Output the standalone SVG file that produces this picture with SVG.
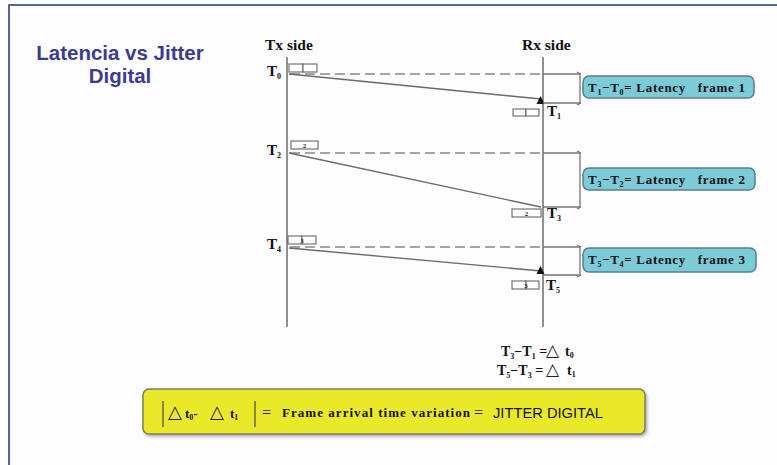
<svg xmlns="http://www.w3.org/2000/svg" width="777" height="465" viewBox="0 0 777 465">
<defs>
<style>
.ser{font-family:"Liberation Serif","Times New Roman",serif;font-weight:bold;fill:#111;}
.lbl{font-size:15px;}
.sub{font-size:8px;}
.cal{font-size:13px;letter-spacing:0.7px;}
.axis{stroke:#7a7272;stroke-width:1.6;fill:none;}
.sig{stroke:#6e6868;stroke-width:1.4;fill:none;}
.dash{stroke:#8a8585;stroke-width:1.6;stroke-dasharray:10 5;fill:none;}
.brk{stroke:#7a7272;stroke-width:1.3;fill:none;}
.frm{fill:#fff;stroke:#6e6464;stroke-width:1.1;}
.callout{fill:#7ccbd8;stroke:#587f88;stroke-width:1.5;}
.fnum{font-family:"Liberation Serif",serif;font-size:7px;font-weight:bold;fill:#222;}
.tri{font-family:"DejaVu Sans",sans-serif;fill:#222;}
</style>
<filter id="sh" x="-5%" y="-20%" width="110%" height="150%">
<feDropShadow dx="1.5" dy="2" stdDeviation="1.5" flood-color="#777" flood-opacity="0.6"/>
</filter>
</defs>
<rect x="0" y="0" width="777" height="465" fill="#ffffff"/>
<rect x="9" y="5" width="800" height="500" fill="#fdfdff" stroke="#55649e" stroke-width="2"/>

<g id="title">
<text x="120" y="60" text-anchor="middle" font-family="Liberation Sans,Arial,sans-serif" font-weight="bold" font-size="20.5" fill="#3c3c8e">Latencia vs Jitter</text>
<text x="120" y="83" text-anchor="middle" font-family="Liberation Sans,Arial,sans-serif" font-weight="bold" font-size="20.5" fill="#3c3c8e">Digital</text>
</g>

<g id="tx-side">
<text class="ser" x="265" y="50" font-size="15.5">Tx side</text>
<line class="axis" x1="287" y1="57" x2="287" y2="327"/>
</g>
<g id="rx-side">
<text class="ser" x="522" y="50" font-size="15.5">Rx side</text>
<line class="axis" x1="543" y1="57" x2="543" y2="327"/>
</g>

<g id="connectors">
<line class="dash" x1="290" y1="74" x2="543" y2="74"/>
<line class="dash" x1="290" y1="153" x2="543" y2="153"/>
<line class="dash" x1="290" y1="247" x2="543" y2="247"/>
<line class="sig" x1="289" y1="74" x2="541" y2="99"/>
<line class="sig" x1="289" y1="153" x2="541" y2="207"/>
<line class="sig" x1="289" y1="248" x2="541" y2="271"/>
<polygon points="540.5,96 536.5,104 544.5,104" fill="#111"/>
<polygon points="540.5,266 536.5,274 544.5,274" fill="#111"/>
<path class="brk" d="M543,74 H580 V103 H543"/>
<path class="brk" d="M543,153 H580 V207 H543"/>
<path class="brk" d="M543,247 H580 V275 H543"/>
<path class="brk" d="M577,72 L581,74 M577,105 L581,103 M577,151 L581,153 M577,209 L581,207 M577,245 L581,247 M577,277 L581,275"/>
</g>

<g id="frame1">
<text class="ser lbl" x="267" y="76">T<tspan class="sub" dy="3">0</tspan></text>
<rect class="frm" x="289" y="64" width="14" height="8"/>
<rect class="frm" x="303" y="64" width="14" height="8"/>
<rect class="frm" x="513" y="109" width="13" height="7"/>
<rect class="frm" x="526" y="109" width="13" height="7"/>
<text class="ser lbl" x="547" y="116">T<tspan class="sub" dy="3">1</tspan></text>
<rect class="callout" x="583" y="76" width="171" height="22" rx="6"/>
<text class="ser cal" x="588" y="92">T<tspan class="sub" dy="3">1</tspan><tspan dy="-3">−T</tspan><tspan class="sub" dy="3">0</tspan><tspan dy="-3">= Latency &#160;&#160;frame 1</tspan></text>
</g>

<g id="frame2">
<text class="ser lbl" x="267" y="155">T<tspan class="sub" dy="3">2</tspan></text>
<rect class="frm" x="291" y="141" width="27" height="8"/>
<text class="fnum" x="304.5" y="148" text-anchor="middle">2</text>
<rect class="frm" x="512" y="209" width="29" height="8"/>
<text class="fnum" x="526.5" y="216" text-anchor="middle">2</text>
<text class="ser lbl" x="547" y="218">T<tspan class="sub" dy="3">3</tspan></text>
<rect class="callout" x="583" y="168" width="172" height="22" rx="6"/>
<text class="ser cal" x="588" y="184">T<tspan class="sub" dy="3">3</tspan><tspan dy="-3">−T</tspan><tspan class="sub" dy="3">2</tspan><tspan dy="-3">= Latency &#160;&#160;frame 2</tspan></text>
</g>

<g id="frame3">
<text class="ser lbl" x="267" y="249">T<tspan class="sub" dy="3">4</tspan></text>
<rect class="frm" x="288" y="236" width="14" height="8"/>
<rect class="frm" x="302" y="236" width="14" height="8"/>
<text class="fnum" x="302" y="243" text-anchor="middle">3</text>
<rect class="frm" x="512" y="281" width="14" height="8"/>
<rect class="frm" x="526" y="281" width="13" height="8"/>
<text class="fnum" x="526" y="288" text-anchor="middle">3</text>
<text class="ser lbl" x="546" y="290">T<tspan class="sub" dy="3">5</tspan></text>
<rect class="callout" x="583" y="248" width="173" height="24" rx="6"/>
<text class="ser cal" x="588" y="264">T<tspan class="sub" dy="3">5</tspan><tspan dy="-3">−T</tspan><tspan class="sub" dy="3">4</tspan><tspan dy="-3">= Latency &#160;&#160;frame 3</tspan></text>
</g>

<g id="equations">
<text class="ser" x="501" y="356" font-size="14">T<tspan class="sub" dy="3">3</tspan><tspan dy="-3">−T</tspan><tspan class="sub" dy="3">1</tspan><tspan dy="-3"> =</tspan></text>
<text class="tri" x="546" y="356" font-size="17">△</text>
<text class="ser" x="565" y="356" font-size="14">t<tspan class="sub" dy="2">0</tspan></text>
<text class="ser" x="497" y="375" font-size="14">T<tspan class="sub" dy="3">5</tspan><tspan dy="-3">−T</tspan><tspan class="sub" dy="3">3</tspan><tspan dy="-3"> =</tspan></text>
<text class="tri" x="546" y="375" font-size="17">△</text>
<text class="ser" x="567" y="375" font-size="14">t<tspan class="sub" dy="2">1</tspan></text>
</g>

<g id="jitter-box">
<rect x="143" y="389" width="502" height="45" rx="6" fill="#e9e92c" stroke="#7d7d62" stroke-width="1.5" filter="url(#sh)"/>
<line x1="163" y1="401" x2="163" y2="427" stroke="#555" stroke-width="1.3"/>
<line x1="255" y1="401" x2="255" y2="427" stroke="#555" stroke-width="1.3"/>
<text class="tri" x="168" y="418" font-size="18">△</text>
<text class="ser" x="185" y="418" font-size="13">t<tspan class="sub" dy="2">0</tspan><tspan dy="-2">-</tspan></text>
<text class="tri" x="210" y="418" font-size="18">△</text>
<text class="ser" x="230" y="418" font-size="13">t<tspan class="sub" dy="2">1</tspan></text>
<text x="262" y="418" font-family="Liberation Serif,serif" font-size="16" fill="#222">=</text>
<text class="ser" x="282" y="417" font-size="13" textLength="188" lengthAdjust="spacing">Frame arrival time variation</text>
<text x="474" y="418" font-family="Liberation Serif,serif" font-size="16" fill="#222">=</text>
<text x="493" y="418" font-family="Liberation Sans,Arial,sans-serif" font-size="15" fill="#111" textLength="110" lengthAdjust="spacingAndGlyphs">JITTER DIGITAL</text>
</g>
</svg>
